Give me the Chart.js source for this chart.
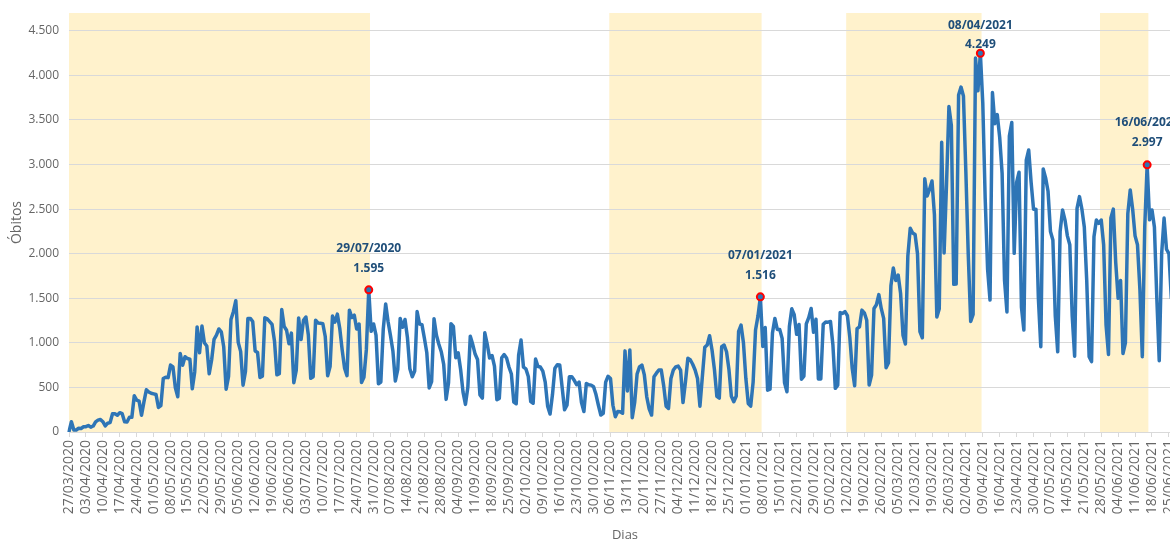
<!DOCTYPE html>
<html>
<head>
<meta charset="utf-8">
<script src="https://cdn.jsdelivr.net/npm/chart.js@4"></script>
<style>
    html, body { margin: 0; padding: 0; background: #fff; overflow: hidden; }
    #container { position: relative; width: 1186px; height: 543px; }
</style>
</head>
<body>
<div id="container"><canvas id="myChart"></canvas></div>
<script>
// daily deaths from 27/03/2020, one value per day (weeks per row)
const obitos = [
    5, 115, 22, 23, 42, 40, 58,
    60, 73, 54, 67, 114, 133, 141,
    115, 68, 99, 105, 204, 204, 188,
    217, 206, 115, 113, 166, 165, 407,
    357, 346, 189, 338, 474, 449, 435,
    428, 421, 275, 296, 600, 615, 610,
    751, 730, 496, 396, 881, 749, 844,
    824, 816, 485, 674, 1179, 888, 1188,
    1001, 965, 653, 807, 1039, 1086, 1156,
    1124, 956, 480, 623, 1262, 1349, 1473,
    1005, 904, 525, 679, 1272, 1274, 1239,
    909, 892, 612, 627, 1282, 1269, 1238,
    1206, 1022, 641, 654, 1374, 1185, 1141,
    990, 1109, 552, 692, 1280, 1038, 1252,
    1290, 1091, 602, 620, 1254, 1223, 1220,
    1214, 1071, 631, 733, 1300, 1233, 1322,
    1163, 921, 716, 632, 1367, 1284, 1311,
    1156, 1211, 555, 614, 921, 1595, 1129,
    1212, 1088, 541, 561, 1154, 1437, 1237,
    1079, 905, 572, 703, 1274, 1175, 1262,
    1060, 709, 620, 684, 1352, 1212, 1204,
    1054, 892, 494, 565, 1271, 1085, 984,
    900, 758, 366, 553, 1215, 1184, 834,
    888, 701, 447, 310, 504, 1075, 983,
    874, 814, 415, 381, 1113, 987, 829,
    858, 739, 363, 377, 833, 869, 831,
    729, 650, 335, 317, 863, 1031, 728,
    708, 623, 341, 323, 819, 734, 729,
    682, 559, 290, 201, 420, 716, 754,
    751, 500, 250, 300, 620, 620, 580,
    530, 560, 330, 230, 545, 530, 526,
    508, 420, 300, 190, 210, 560, 625,
    600, 300, 171, 230, 227, 210, 910,
    460, 920, 160, 330, 650, 730, 751,
    640, 395, 260, 190, 620, 660, 695,
    695, 520, 290, 264, 600, 695, 730,
    740, 695, 330, 560, 826, 810, 760,
    695, 600, 290, 620, 950, 976, 1080,
    920, 700, 400, 380, 957, 976, 900,
    700, 400, 340, 400, 1130, 1200, 1000,
    600, 320, 290, 560, 1144, 1300, 1516,
    960, 1171, 469, 480, 1110, 1274, 1151,
    1151, 1050, 551, 452, 1183, 1382, 1316,
    1096, 1206, 592, 627, 1214, 1283, 1386,
    1119, 1265, 595, 595, 1209, 1233, 1232,
    1239, 979, 490, 525, 1340, 1330, 1351,
    1306, 1061, 712, 520, 1160, 1180, 1367,
    1337, 1253, 527, 639, 1386, 1428, 1541,
    1386, 1275, 721, 778, 1641, 1840, 1699,
    1760, 1555, 1086, 987, 1972, 2286, 2233,
    2216, 2000, 1127, 1057, 2841, 2648, 2724,
    2815, 2438, 1290, 1383, 3251, 2009, 2777,
    3650, 3438, 1656, 1660, 3780, 3869, 3769,
    2922, 1987, 1240, 1319, 4195, 3829, 4249,
    3693, 2616, 1824, 1480, 3808, 3459, 3560,
    3305, 2900, 1700, 1347, 3321, 3472, 2004,
    2800, 2914, 1400, 1144, 3050, 3163, 2800,
    2500, 2500, 1500, 957, 2950, 2850, 2700,
    2250, 2154, 1300, 900, 2250, 2490, 2380,
    2200, 2100, 1300, 850, 2510, 2640, 2500,
    2300, 1700, 845, 790, 2190, 2378, 2340,
    2378, 2100, 1200, 870, 2400, 2500, 1900,
    1500, 1700, 880, 1000, 2450, 2715, 2500,
    2200, 2100, 1600, 845, 2300, 2997, 2380,
    2490, 2300, 1500, 800, 2000, 2400, 2050,
    2000, 1500
];

const primeiroDia = [2020, 2, 27];
const totalDias = 461;
const faixas = [
    ['27/03/2020', '29/07/2020'],
    ['06/11/2020', '07/01/2021'],
    ['12/02/2021', '08/04/2021'],
    ['28/05/2021', '16/06/2021']
];
const picos = ['29/07/2020', '07/01/2021', '08/04/2021', '16/06/2021'];
const yTicks = [0, 500, 1000, 1500, 2000, 2500, 3000, 3500, 4000, 4500];

function pad(n) {
    return String(n).padStart(2, '0');
}

function fmtNum(n) {
    return String(n).replace(/\B(?=(\d{3})+(?!\d))/g, '.');
}

let dias = [];
for (let i = 0; i < totalDias; i++) {
    let d = new Date(primeiroDia[0], primeiroDia[1], primeiroDia[2] + i);
    dias.push(pad(d.getDate()) + '/' + pad(d.getMonth() + 1) + '/' + d.getFullYear());
}
let picoIdx = picos.map(p => dias.indexOf(p));

// offsets of the two text lines above each marker
const rotuloOffset = [[-41, -21], [-41, -21], [-28, -9], [-42, -22]];

const faixasPlugin = {
    id: 'faixas',
    beforeDraw(chart) {
        const { ctx, chartArea, scales: { x, y } } = chart;
        const half = (x.getPixelForValue(1) - x.getPixelForValue(0)) / 2;
        ctx.save();
        ctx.beginPath();
        ctx.rect(chartArea.left, chartArea.top, chartArea.width, chartArea.height);
        ctx.clip();
        ctx.fillStyle = '#fff2cc';
        faixas.forEach(f => {
            let x0 = x.getPixelForValue(dias.indexOf(f[0])) - half;
            let x1 = x.getPixelForValue(dias.indexOf(f[1])) + half;
            let top = y.getPixelForValue(y.max);
            ctx.fillRect(x0, top, x1 - x0, y.getPixelForValue(0) - top);
        });
        ctx.restore();
    }
};

const picosPlugin = {
    id: 'picos',
    afterDatasetsDraw(chart) {
        const meta = chart.getDatasetMeta(0);
        const ctx = chart.ctx;
        ctx.save();
        ctx.font = 'bold 12px "Open Sans"';
        ctx.fillStyle = '#1f4e79';
        ctx.textAlign = 'center';
        ctx.textBaseline = 'middle';
        picoIdx.forEach((i, k) => {
            let pt = meta.data[i];
            ctx.fillText(dias[i], pt.x, pt.y + rotuloOffset[k][0]);
            ctx.fillText(fmtNum(obitos[i]), pt.x, pt.y + rotuloOffset[k][1]);
        });
        ctx.restore();
    }
};

function CreateChart() {
    const ctx = document.getElementById('myChart');

    new Chart(ctx, {
        type: 'line',
        data: {
            labels: dias,
            datasets: [{
                label: 'Óbitos',
                data: obitos,
                borderColor: '#2e75b6',
                borderWidth: 3.5,
                borderJoinStyle: 'round',
                borderCapStyle: 'round',
                tension: 0,
                pointRadius: c => picoIdx.includes(c.dataIndex) ? 3.5 : 0,
                pointBackgroundColor: '#2e75b6',
                pointBorderColor: '#ff0000',
                pointBorderWidth: 2
            }]
        },
        options: {
            responsive: true,
            maintainAspectRatio: false,
            animation: false,
            layout: {
                padding: { top: 13, right: 5, left: 0, bottom: 0 }
            },
            scales: {
                x: {
                    offset: false,
                    grid: {
                        offset: false,
                        drawOnChartArea: false,
                        drawTicks: true,
                        tickLength: 5,
                        color: '#d9d9d9'
                    },
                    border: { display: true, color: '#d9d9d9' },
                    ticks: {
                        autoSkip: false,
                        maxRotation: 90,
                        minRotation: 90,
                        padding: 3,
                        color: '#666',
                        font: { family: 'Open Sans', size: 14 },
                        callback: function (value, index) {
                            return index % 7 === 0 ? dias[index] : null;
                        }
                    },
                    title: {
                        display: true,
                        text: 'Dias',
                        color: '#666',
                        font: { family: 'Open Sans', size: 13 },
                        padding: { top: 0, bottom: 0 }
                    },
                    afterFit: function (scale) {
                        scale.height = 111;
                        scale.paddingLeft = 0;
                        scale.paddingRight = 0;
                    }
                },
                y: {
                    min: 0,
                    max: 4700,
                    grid: {
                        color: '#d9d9d9',
                        drawTicks: false
                    },
                    border: { display: false },
                    afterBuildTicks: function (axis) {
                        axis.ticks = yTicks.map(v => ({ value: v }));
                    },
                    ticks: {
                        padding: 10,
                        color: '#666',
                        font: { family: 'Open Sans', size: 12 },
                        callback: v => fmtNum(v)
                    },
                    title: {
                        display: true,
                        text: 'Óbitos',
                        color: '#666',
                        font: { family: 'Open Sans', size: 14 },
                        padding: { top: 9, bottom: 0 }
                    },
                    afterFit: function (scale) {
                        scale.width = 69;
                        scale.paddingTop = 0;
                        scale.paddingBottom = 0;
                    }
                }
            },
            plugins: {
                legend: { display: false },
                tooltip: { enabled: false }
            }
        },
        plugins: [faixasPlugin, picosPlugin]
    });
}

CreateChart();
</script>
</body>
</html>
